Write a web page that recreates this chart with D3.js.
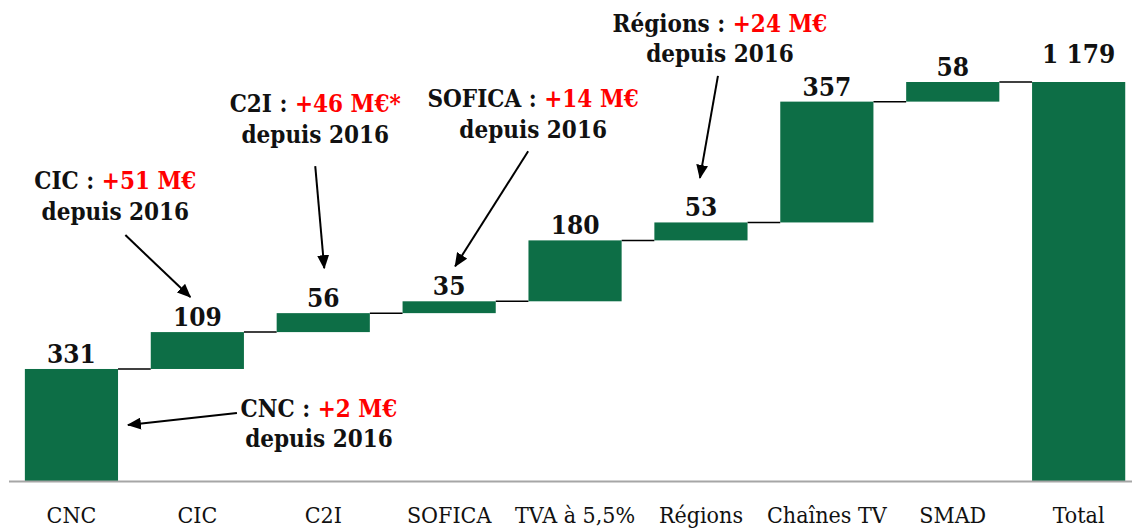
<!DOCTYPE html>
<html>
<head>
<meta charset="utf-8">
<script src="https://cdn.jsdelivr.net/npm/d3@7"></script>
<style>
  body { margin: 0; background: #fff; }
  svg text { font-family: "DejaVu Serif Condensed", "DejaVu Serif", serif; font-stretch: condensed; }
</style>
</head>
<body>
<svg id="chart"></svg>
<script>
// chart data
const categories = ["CNC", "CIC", "C2I", "SOFICA", "TVA à 5,5%", "Régions", "Chaînes TV", "SMAD", "Total"];
const values = [331, 109, 56, 35, 180, 53, 357, 58, 1179];
const valueLabels = ["331", "109", "56", "35", "180", "53", "357", "58", "1 179"];

// annotations
const noteCats = ["CIC", "C2I", "SOFICA", "Régions", "CNC"];
const noteHeads = ["CIC : ", "C2I : ", "SOFICA : ", "Régions : ", "CNC : "];
const noteDeltas = ["+51 M€", "+46 M€*", "+14 M€", "+24 M€", "+2 M€"];
const noteSub = "depuis 2016";

const width = 1132, height = 530;
const green = "#0d6e46";

const svg = d3.select("#chart")
    .attr("width", width)
    .attr("height", height)
    .attr("viewBox", [0, 0, width, height]);

const x = d3.scaleBand()
    .domain(categories)
    .range([8.5, 1141.6])
    .paddingInner(0.26)
    .paddingOuter(0.13);

const y = d3.scaleLinear()
    .domain([0, 1179])
    .range([481, 82]);

// waterfall start / end
let run = 0;
const steps = categories.map((c, i) => {
    const isTotal = i === categories.length - 1;
    const start = isTotal ? 0 : run;
    const end = isTotal ? values[i] : run + values[i];
    if (!isTotal) run = end;
    return { cat: c, start, end, label: valueLabels[i], total: isTotal };
});

// connectors
svg.append("g")
    .attr("stroke", "#000")
    .attr("stroke-width", 1.5)
    .selectAll("line")
    .data(steps.slice(0, -1))
    .join("line")
    .attr("x1", d => x(d.cat) + x.bandwidth())
    .attr("x2", (d, i) => x(steps[i + 1].cat))
    .attr("y1", d => y(d.end))
    .attr("y2", d => y(d.end));

// bars
svg.append("g")
    .attr("fill", green)
    .selectAll("rect")
    .data(steps)
    .join("rect")
    .attr("x", d => x(d.cat))
    .attr("width", x.bandwidth())
    .attr("y", d => y(Math.max(d.start, d.end)))
    .attr("height", d => Math.abs(y(d.start) - y(d.end)));

// value labels
svg.append("g")
    .selectAll("text")
    .data(steps)
    .join("text")
    .attr("x", d => x(d.cat) + x.bandwidth() / 2)
    .attr("y", d => y(d.end) - (d.total ? 19 : 6))
    .attr("text-anchor", "middle")
    .attr("font-size", 26)
    .attr("font-weight", "bold")
    .attr("fill", "#111")
    .text(d => d.label);

// axis
const axis = svg.append("g")
    .attr("transform", `translate(0,${y(0)})`)
    .call(d3.axisBottom(x).tickSize(0).tickSizeOuter(0).tickPadding(26));
axis.select(".domain").attr("stroke", "#a6a6a6").attr("stroke-width", 2);
axis.selectAll("text")
    .attr("font-size", 23)
    .attr("fill", "#111")
    .style("font-family", "'DejaVu Serif Condensed', 'DejaVu Serif', serif");

// annotation layout: offsets from the bar top centre
const noteLayout = [
    { tx: -82, ty: -143, from: [-72, -97], to: [-7, -35] },
    { tx: -8, ty: -201, from: [-8, -147], to: [1, -45] },
    { tx: 84, ty: -194, from: [79, -150], to: [6, -35] },
    { tx: 19, ty: -190.5, from: [17, -146.5], to: [-1, -44.5] },
    { tx: 247.5, ty: 48, from: [165.5, 44], to: [56.5, 56] }
];

svg.append("defs").append("marker")
    .attr("id", "head")
    .attr("viewBox", "0 0 14 12")
    .attr("refX", 13)
    .attr("refY", 6)
    .attr("markerWidth", 14)
    .attr("markerHeight", 12)
    .attr("markerUnits", "userSpaceOnUse")
    .attr("orient", "auto")
    .append("path")
    .attr("d", "M0,0L14,6L0,12Z")
    .attr("fill", "#000");

const notes = svg.append("g");
noteCats.forEach((cat, i) => {
    const s = steps.find(d => d.cat === cat);
    const cx = x(cat) + x.bandwidth() / 2;
    const cy = y(s.end);
    const L = noteLayout[i];

    const t = notes.append("text")
        .attr("x", cx + L.tx)
        .attr("y", cy + L.ty)
        .attr("text-anchor", "middle")
        .attr("font-size", 24)
        .attr("font-weight", "bold");
    t.append("tspan").attr("fill", "#111").text(noteHeads[i]);
    t.append("tspan").attr("fill", "#ff0000").text(noteDeltas[i]);

    notes.append("text")
        .attr("x", cx + L.tx)
        .attr("y", cy + L.ty + 30.5)
        .attr("text-anchor", "middle")
        .attr("font-size", 24)
        .attr("font-weight", "bold")
        .attr("fill", "#111")
        .text(noteSub);

    notes.append("line")
        .attr("x1", cx + L.from[0])
        .attr("y1", cy + L.from[1])
        .attr("x2", cx + L.to[0])
        .attr("y2", cy + L.to[1])
        .attr("stroke", "#000")
        .attr("stroke-width", 2)
        .attr("marker-end", "url(#head)");
});
</script>
</body>
</html>
